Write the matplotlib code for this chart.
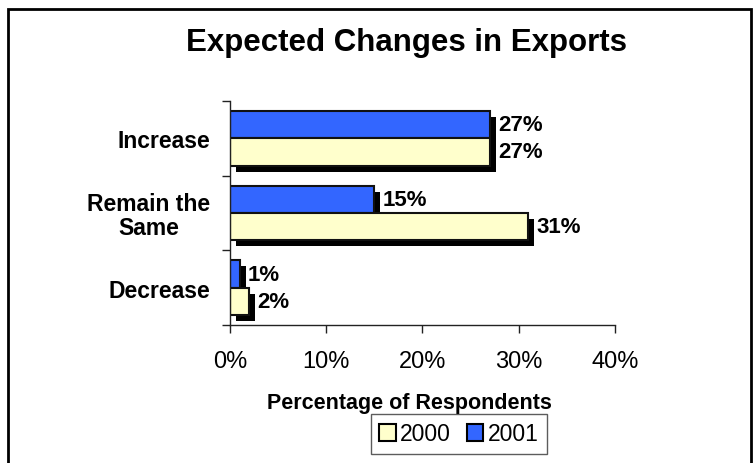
import matplotlib
matplotlib.use("Agg")
import matplotlib.pyplot as plt
from matplotlib.patches import Patch, Rectangle
from matplotlib.transforms import ScaledTranslation

plt.rcParams['font.family'] = ['Liberation Sans', 'DejaVu Sans']

categories = ["Increase", "Remain the\nSame", "Decrease"]
values_2000 = [27, 31, 2]
values_2001 = [27, 15, 1]
series_names = ["2000", "2001"]
xticks = [0, 10, 20, 30, 40]

color_2000 = "#FFFFCC"
color_2001 = "#3366FF"

fig = plt.figure(figsize=(7.55, 4.64), dpi=100)
ax = fig.add_axes([0.3046, 0.2974, 0.51, 0.4828])

n = len(categories)
ypos = [n - 1 - i for i in range(n)]  # first category on top
h = 0.365
off = 0.183

shadow = ax.transData + ScaledTranslation(6 / 100, -6 / 100, fig.dpi_scale_trans)

# drop shadows behind every bar
for vals, d in ((values_2001, off), (values_2000, -off)):
    sb = ax.barh([y + d for y in ypos], vals, height=h, color="black",
                 edgecolor="black", linewidth=0, zorder=1)
    for p in sb:
        p.set_transform(shadow)

b01 = ax.barh([y + off for y in ypos], values_2001, height=h, color=color_2001,
              edgecolor="#111111", linewidth=1.5, zorder=2)
b00 = ax.barh([y - off for y in ypos], values_2000, height=h, color=color_2000,
              edgecolor="#111111", linewidth=1.5, zorder=2)

for y, v in zip(ypos, values_2001):
    ax.annotate(f"{v}%", (v, y + off), xytext=(8, 0), textcoords="offset pixels",
                ha="left", va="center", fontsize=16, fontweight="bold")
for y, v in zip(ypos, values_2000):
    ax.annotate(f"{v}%", (v, y - off), xytext=(8, 0), textcoords="offset pixels",
                ha="left", va="center", fontsize=16, fontweight="bold")

ax.set_xlim(0, 40)
ax.set_ylim(-0.5, n - 0.5)
ax.set_xticks(xticks)
ax.set_xticklabels([f"{t}%" for t in xticks], fontsize=17)
ax.tick_params(axis="x", length=6, width=1, pad=12, color="#222222")

# category boundaries as major ticks, names on minor ticks at centers
ax.set_yticks([k - 0.5 for k in range(n + 1)])
ax.set_yticklabels([])
ax.set_yticks(ypos, minor=True)
ax.set_yticklabels(categories, minor=True, fontsize=16.5, fontweight="bold")
ax.tick_params(axis="y", which="major", length=6, width=1, color="#222222")
ax.tick_params(axis="y", which="minor", length=0, pad=14)
for t in ax.get_yticklabels(minor=True):
    t.set_multialignment("center")
    t.set_linespacing(1.05)

for s in ("top", "right"):
    ax.spines[s].set_visible(False)
for s in ("left", "bottom"):
    ax.spines[s].set_color("#222222")
    ax.spines[s].set_linewidth(1)

fig.text(407 / 755, 1 - 43 / 464, "Expected Changes in Exports", ha="center",
         va="center", fontsize=22.5, fontweight="bold")
fig.text(409 / 755, 1 - 404 / 464, "Percentage of Respondents", ha="center",
         va="center", fontsize=15.5, fontweight="bold")

handles = [Patch(facecolor=color_2000, edgecolor="black", linewidth=1.5),
           Patch(facecolor=color_2001, edgecolor="black", linewidth=1.5)]
leg = fig.legend(handles, series_names, loc="center",
                 bbox_to_anchor=(459 / 755, 1 - 435 / 464), ncol=2,
                 fontsize=16.5, frameon=True, fancybox=False,
                 handlelength=0.7, handleheight=0.7, handletextpad=0.2,
                 columnspacing=0.7, borderpad=0.35, borderaxespad=0)
leg.get_frame().set_edgecolor("#333333")
leg.get_frame().set_linewidth(1)

# outer chart border
fig.patches.append(Rectangle((8 / 755, -0.05), (751 - 8) / 755, 1.05 - 10 / 464,
                             transform=fig.transFigure, fill=False,
                             edgecolor="black", linewidth=2))

fig.savefig("out.png", dpi=100)
